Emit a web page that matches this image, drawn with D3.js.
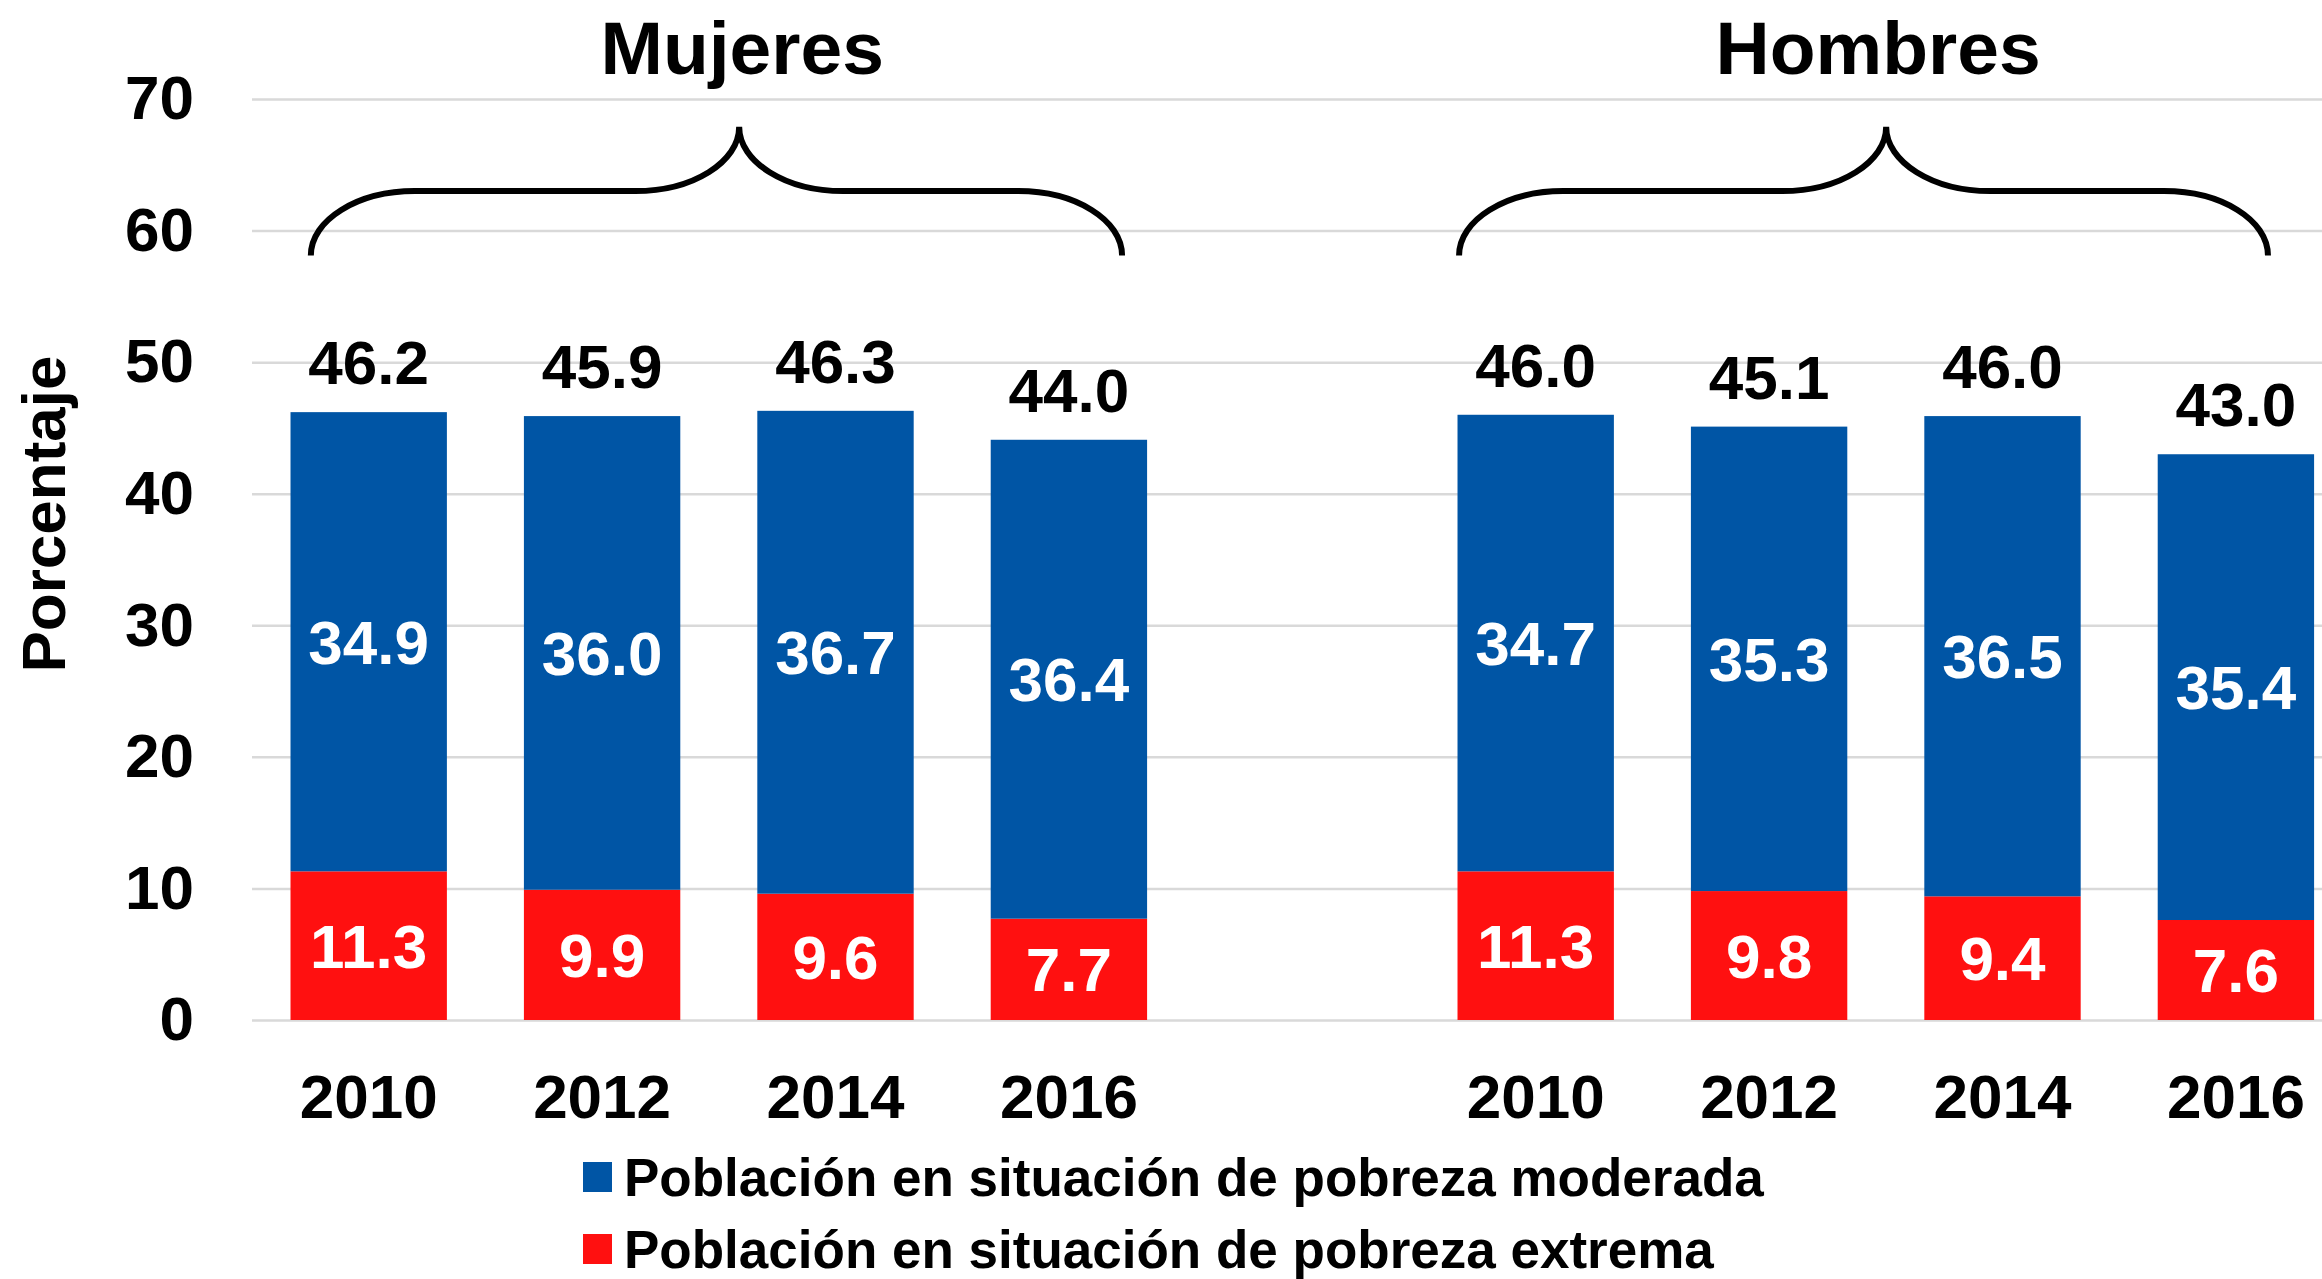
<!DOCTYPE html>
<html>
<head>
<meta charset="utf-8">
<script src="https://cdn.jsdelivr.net/npm/d3@7"></script>
<style>
  body { margin: 0; background: #fff; }
  svg { display: block; font-family: "Liberation Sans", Arial, sans-serif; font-weight: bold; }
</style>
</head>
<body>
<svg></svg>
<script>
const years = ["2010", "2012", "2014", "2016"]
const groups = ["Mujeres", "Hombres"]

const extremaMujeres = [11.3, 9.9, 9.6, 7.7]
const moderadaMujeres = [34.9, 36.0, 36.7, 36.4]
const totalMujeres = [46.2, 45.9, 46.3, 44.0]

const extremaHombres = [11.3, 9.8, 9.4, 7.6]
const moderadaHombres = [34.7, 35.3, 36.5, 35.4]
const totalHombres = [46.0, 45.1, 46.0, 43.0]

const yTicks = [0, 10, 20, 30, 40, 50, 60, 70]
const seriesNames = ["Población en situación de pobreza moderada", "Población en situación de pobreza extrema"]
const seriesColors = ["#0055a5", "#ff1010"]

const width = 2322, height = 1279

const svg = d3.select("svg")
	.attr("width", width)
	.attr("height", height)

// rows for the stack, one spacer category between the two groups
const rows = []
years.forEach((yr, i) => rows.push({key: "Mujeres-" + yr, year: yr, extrema: extremaMujeres[i], moderada: moderadaMujeres[i], total: totalMujeres[i]}))
const keys = rows.map(d => d.key).concat(["gap"])
years.forEach((yr, i) => rows.push({key: "Hombres-" + yr, year: yr, extrema: extremaHombres[i], moderada: moderadaHombres[i], total: totalHombres[i]}))
rows.forEach(d => { if (d.key.startsWith("Hombres")) keys.push(d.key) })

const x = d3.scaleBand()
	.domain(keys)
	.range([252, 252 + 9 * 233.4])
	.paddingInner(0.33)
	.paddingOuter(0.165)

const y = d3.scaleLinear()
	.domain([0, 70])
	.range([1020, 99])

// y axis with gridlines
const yAxis = svg.append("g")
	.attr("transform", "translate(252,0)")
	.call(d3.axisLeft(y).tickValues(yTicks).tickSize(-(width - 252)).tickPadding(58))
yAxis.select(".domain").remove()
yAxis.selectAll("line").attr("stroke", "#d9d9d9").attr("stroke-width", 2.5)
yAxis.selectAll("text")
	.attr("fill", "#000")
	.style("font-size", "62px")
	.style("font-family", "'Liberation Sans', Arial, sans-serif")
	.style("font-weight", "bold")

// x axis labels
const xAxis = svg.append("g")
	.attr("transform", "translate(0,1020)")
	.call(d3.axisBottom(x).tickValues(rows.map(d => d.key)).tickSize(0).tickPadding(54).tickFormat(k => k.split("-")[1]))
xAxis.select(".domain").remove()
xAxis.selectAll("text")
	.attr("fill", "#000")
	.style("font-size", "62px")
	.style("font-family", "'Liberation Sans', Arial, sans-serif")
	.style("font-weight", "bold")

// stacked bars
const stack = d3.stack().keys(["extrema", "moderada"])
const layers = stack(rows)
const color = d3.scaleOrdinal().domain(["moderada", "extrema"]).range(seriesColors)

const layerG = svg.selectAll("g.layer")
	.data(layers)
	.enter()
	.append("g")
	.attr("class", "layer")
	.attr("fill", d => color(d.key))

layerG.selectAll("rect")
	.data(d => d)
	.enter()
	.append("rect")
	.attr("x", d => x(d.data.key))
	.attr("y", d => y(d[1]))
	.attr("width", x.bandwidth())
	.attr("height", d => y(d[0]) - y(d[1]))

layerG.selectAll("text")
	.data(d => d.map(s => ({s: s, key: d.key})))
	.enter()
	.append("text")
	.attr("x", d => x(d.s.data.key) + x.bandwidth() / 2)
	.attr("y", d => y((d.s[0] + d.s[1]) / 2) + 22)
	.attr("text-anchor", "middle")
	.attr("fill", "#fff")
	.style("font-size", "62px")
	.text(d => d.s.data[d.key].toFixed(1))

// totals above bars
svg.selectAll("text.total")
	.data(rows)
	.enter()
	.append("text")
	.attr("class", "total")
	.attr("x", d => x(d.key) + x.bandwidth() / 2)
	.attr("y", d => y(d.extrema + d.moderada) - 28)
	.attr("text-anchor", "middle")
	.attr("fill", "#000")
	.style("font-size", "62px")
	.text(d => d.total.toFixed(1))

// braces + group titles
const braces = [
	{name: "Mujeres", first: "Mujeres-2010", last: "Mujeres-2016", lo: 0.13, hi: 0.84, dx: 3},
	{name: "Hombres", first: "Hombres-2010", last: "Hombres-2016", lo: 0.01, hi: 0.705, dx: -8}
]
const k = 0.5523
const yb = y(58.1), ym = y(63), yt = y(67.9)
function braceEnds(b) {
	const L = x(b.first) + x.bandwidth() * b.lo
	const R = x(b.last) + x.bandwidth() * b.hi
	return [L, R, L + (R - L) * 0.528]
}
function bracePath(b) {
	const [L, R, T] = braceEnds(b)
	const r = 104
	const p = d3.path()
	p.moveTo(L, yb)
	p.bezierCurveTo(L, yb - k * (yb - ym), L + r - k * r, ym, L + r, ym)
	p.lineTo(T - r, ym)
	p.bezierCurveTo(T - r + k * r, ym, T, yt + k * (ym - yt), T, yt)
	p.bezierCurveTo(T, yt + k * (ym - yt), T + r - k * r, ym, T + r, ym)
	p.lineTo(R - r, ym)
	p.bezierCurveTo(R - r + k * r, ym, R, yb - k * (yb - ym), R, yb)
	return p.toString()
}

svg.selectAll("path.brace")
	.data(braces)
	.enter()
	.append("path")
	.attr("class", "brace")
	.attr("d", bracePath)
	.attr("fill", "none")
	.attr("stroke", "#000")
	.attr("stroke-width", 6)

svg.selectAll("text.group")
	.data(braces)
	.enter()
	.append("text")
	.attr("class", "group")
	.attr("x", d => braceEnds(d)[2] + d.dx)
	.attr("y", 74)
	.attr("text-anchor", "middle")
	.attr("fill", "#000")
	.style("font-size", "75px")
	.text(d => d.name)

// y title
svg.append("text")
	.attr("transform", "translate(65,514) rotate(-90)")
	.attr("text-anchor", "middle")
	.attr("fill", "#000")
	.style("font-size", "62px")
	.text("Porcentaje")

// legend
const legend = svg.selectAll("g.legend")
	.data(seriesNames)
	.enter()
	.append("g")
	.attr("class", "legend")
	.attr("transform", (d, i) => `translate(583, ${1196 + i * 72})`)

legend.append("rect")
	.attr("x", 0)
	.attr("y", -34)
	.attr("width", 29)
	.attr("height", 30)
	.attr("fill", (d, i) => seriesColors[i])

legend.append("text")
	.attr("x", 41)
	.attr("y", 0)
	.attr("fill", "#000")
	.style("font-size", "53px")
	.text(d => d)
</script>
</body>
</html>
